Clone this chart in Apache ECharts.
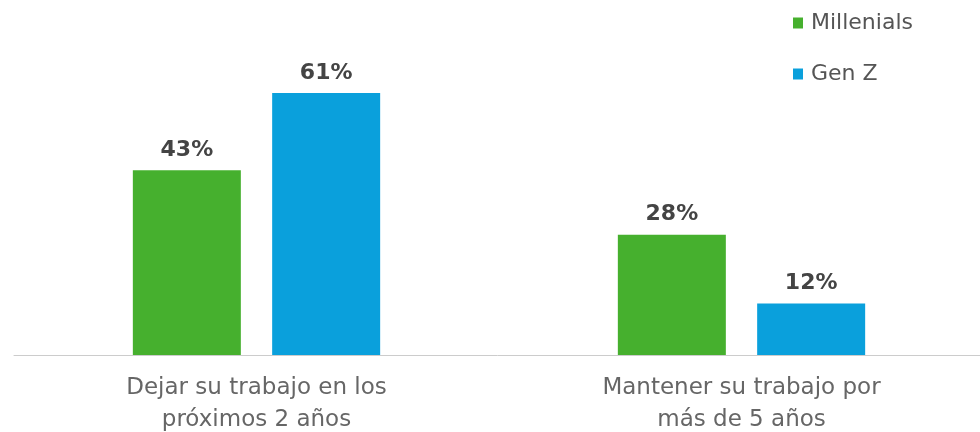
<!DOCTYPE html>
<html><head><meta charset="utf-8">
<script src="https://cdn.jsdelivr.net/npm/echarts@6/dist/echarts.min.js"></script>
<style>html,body{margin:0;padding:0;background:#fff}#c{width:980px;height:432px}</style>
</head><body><div id="c"></div>
<script>
const categories = ['Dejar su trabajo en los\npróximos 2 años', 'Mantener su trabajo por\nmás de 5 años'];
const seriesNames = ['Millenials', 'Gen Z'];
const millenials = [43, 28];
const genZ = [61, 12];
const colors = ['#46B02E', '#0AA0DC'];
const font = 'DejaVu Sans, Verdana, sans-serif';
const chart = echarts.init(document.getElementById('c'));
const mk = (name, data, color) => ({
  name, type: 'bar', data, barWidth: 108, barGap: '29%',
  itemStyle: {color},
  label: {show: true, position: 'top', distance: 9, formatter: '{c}%', fontFamily: font, fontWeight: 'bold', fontSize: 22, color: '#444'}
});
chart.setOption({
  animation: false,
  legend: {
    orient: 'vertical', left: 788, top: 7, itemWidth: 10, itemHeight: 11, itemGap: 29,
    icon: 'rect',
    textStyle: {fontFamily: font, fontSize: 22, color: '#555', padding: [0,0,0,3]},
    data: seriesNames
  },
  grid: {left: 14, width: 970, top: 54.4, bottom: 77, outerBoundsMode: 'none', containLabel: false},
  xAxis: {
    type: 'category', data: categories,
    axisLine: {lineStyle: {color: '#ccc', width: 1}},
    axisTick: {show: false},
    axisLabel: {fontFamily: font, fontSize: 23, color: '#666', lineHeight: 32, margin: 17}
  },
  yAxis: {type: 'value', min: 0, max: 70, show: false, splitLine: {show: false}},
  series: [mk(seriesNames[0], millenials, colors[0]), mk(seriesNames[1], genZ, colors[1])]
});
</script></body></html>
